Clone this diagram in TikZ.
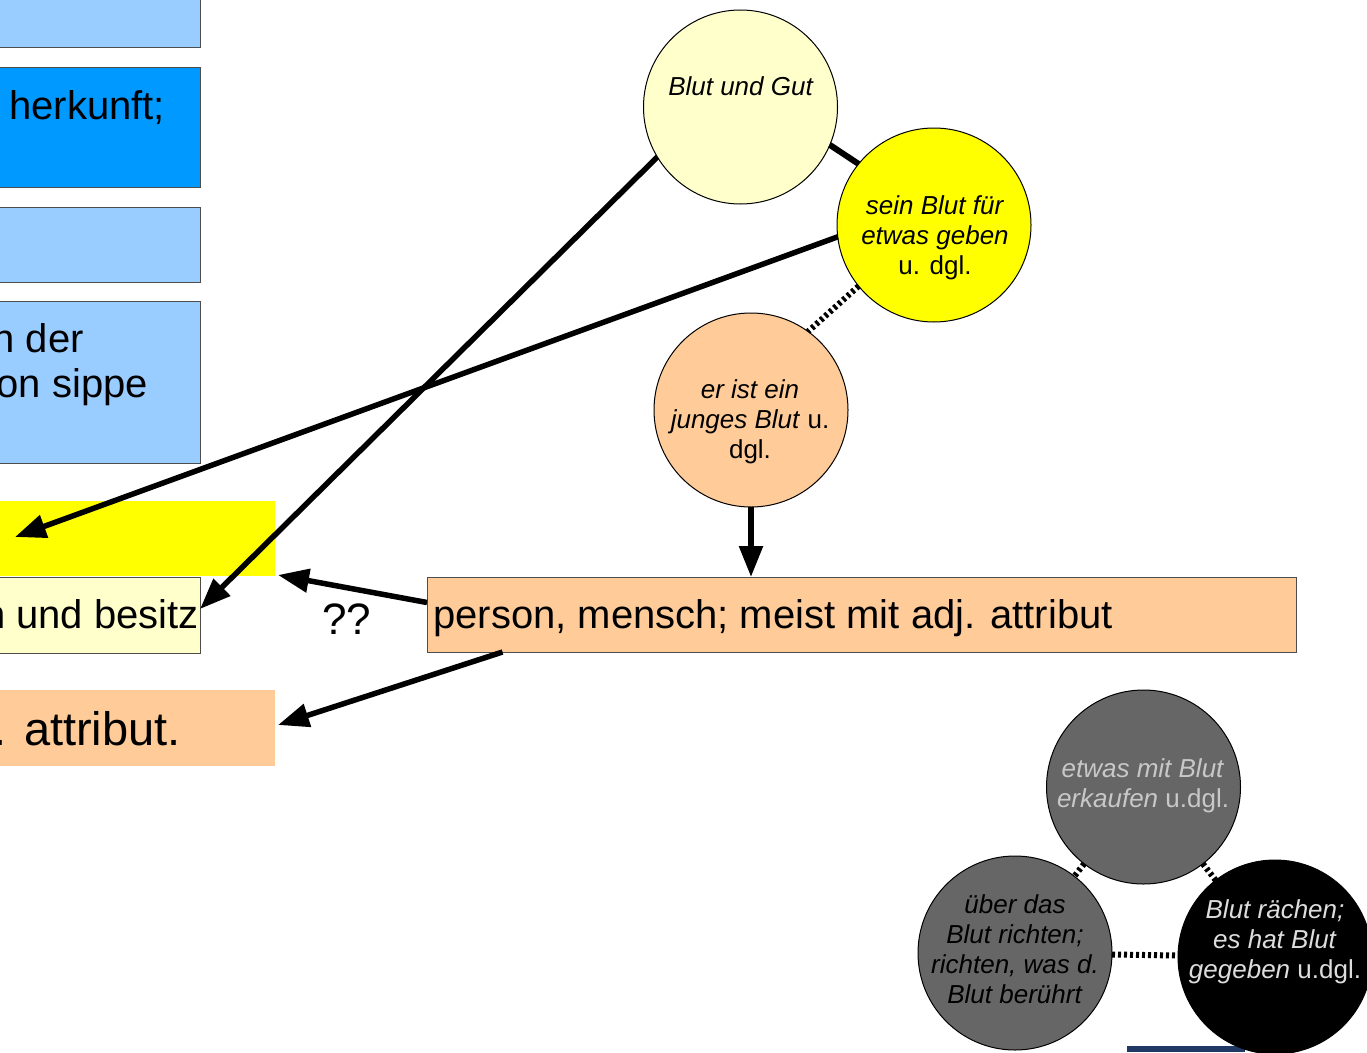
\documentclass[tikz,border=0pt]{standalone}
\usepackage{fontspec}
\setmainfont{Liberation Sans}
\usetikzlibrary{arrows.meta,calc}
\definecolor{lblue}{HTML}{99CCFF}
\definecolor{mblue}{HTML}{0099FF}
\definecolor{lyel}{HTML}{FFFFCC}
\definecolor{yel}{HTML}{FFFF00}
\definecolor{orng}{HTML}{FFCC99}
\definecolor{dgray}{HTML}{666666}
\definecolor{bord}{HTML}{4D4D4D}
\definecolor{navy}{HTML}{1F3864}
\definecolor{ltxt}{HTML}{C8C8C8}
\definecolor{ltxtb}{HTML}{DDDDDD}
\begin{document}
\begin{tikzpicture}[x=1pt,y=-1pt,
  box/.style={rectangle,inner sep=0pt,outer sep=0pt,draw=bord,line width=1pt},
  flatbox/.style={rectangle,inner sep=0pt,outer sep=0pt},
  circ/.style={circle,draw=black,line width=1pt,minimum size=194pt,inner sep=0pt,outer sep=0pt},
  big/.style={font=\fontsize{40}{46}\selectfont,inner sep=0pt},
  ctext/.style={font=\fontsize{26}{30}\selectfont,align=center,inner sep=0pt,anchor=north},
  arr/.style={line width=5.5pt,-{Triangle[length=31pt,width=23pt]}},
  link/.style={line width=6pt},
  dotlink/.style={line width=6pt,dash pattern=on 3pt off 3pt},
]
\useasboundingbox (0,0) rectangle (1367,1052);
\clip (0,0) rectangle (1367,1052);
\fill[white] (0,0) rectangle (1367,1052);

% left boxes
\node[box,fill=lblue,minimum width=220pt,minimum height=67pt] (b1) at (90,13.5) {};
\node[box,fill=mblue,minimum width=220pt,minimum height=120pt] (b2) at (90,127) {};
\node[box,fill=lblue,minimum width=220pt,minimum height=75pt] (b3) at (90,244.5) {};
\node[box,fill=lblue,minimum width=220pt,minimum height=162pt] (b4) at (90,382) {};
\node[flatbox,fill=yel,minimum width=295pt,minimum height=75pt] (yel) at (127.5,538.5) {};
\node[box,fill=lyel,minimum width=220pt,minimum height=76pt] (besitz) at (90,615) {};
\node[flatbox,fill=orng,minimum width=295pt,minimum height=76pt] (attr) at (127.5,728) {};
\node[box,fill=orng,minimum width=869pt,minimum height=75pt] (person) at (861.5,614.5) {};

% box texts
\node[big,anchor=base west] (t2) at (9,119) {herkunft;};
\node[big,anchor=base east] (t4a) at (84,352) {n der};
\node[big,anchor=base east] (t4b) at (148,397) {on sippe};
\node[big,anchor=base east] (tbes) at (199,628) {n und besitz};
\node[font=\fontsize{47}{54}\selectfont,inner sep=0pt,anchor=base east] (tattr) at (181,745) {. attribut.};
\node[big,anchor=base west] (tper) at (433,628) {person, mensch; meist mit adj. attribut};
\node[font=\fontsize{44}{50}\selectfont,inner sep=0pt,anchor=base west] (qq) at (322,634) {??};

% circles
\node[circ,fill=lyel] (gut) at (740.5,107) {};
\node[circ,fill=yel] (sein) at (934,225) {};
\node[circ,fill=orng] (jung) at (751,410) {};
\node[circ,fill=dgray] (etwas) at (1143.5,787) {};
\node[circ,fill=dgray] (uber) at (1015,953) {};
\fill[navy] (1127,1046) rectangle (1245,1052);
\node[circ,fill=black] (rach) at (1275,957) {};

% circle texts
\node[ctext] (tgut) at (741,76) {\textit{Blut und Gut}};
\node[ctext] (tsein) at (935,195) {\textit{sein Blut für}\\\textit{etwas geben}\\u. dgl.};
\node[ctext] (tjung) at (750,379) {\textit{er ist ein}\\\textit{junges Blut} u.\\dgl.};
\node[ctext,text=ltxt] (tetw) at (1143,758) {\textit{etwas mit Blut}\\\textit{erkaufen} u.dgl.};
\node[ctext] (tuber) at (1015,894) {\textit{über das}\\\textit{Blut richten;}\\\textit{richten, was d.}\\\textit{Blut berührt}};
\node[ctext,text=ltxtb] (track) at (1275,899) {\textit{Blut rächen;}\\\textit{es hat Blut}\\\textit{gegeben} u.dgl.};

% connectors
\coordinate (ytip) at (15,537);
\draw[link] (gut.-23) -- (sein.141);
\draw[dotlink] (sein.219) -- (jung.54);
\draw[dotlink] (etwas) -- (uber);
\draw[dotlink] (etwas) -- (rach);
\draw[dotlink] (uber) -- (rach);
\draw[arr] (gut.211) -- ([yshift=6pt]besitz.east);
\draw[arr] (sein.187) -- (ytip);
\draw[arr] ([yshift=12pt]person.west) -- ([xshift=3pt,yshift=1pt]yel.south east);
\draw[arr] ([xshift=-359pt]person.south) -- ([xshift=3pt,yshift=3pt]attr.east);
\draw[arr] (jung.south) -- (jung.south |- person.north);
\end{tikzpicture}
\end{document}
